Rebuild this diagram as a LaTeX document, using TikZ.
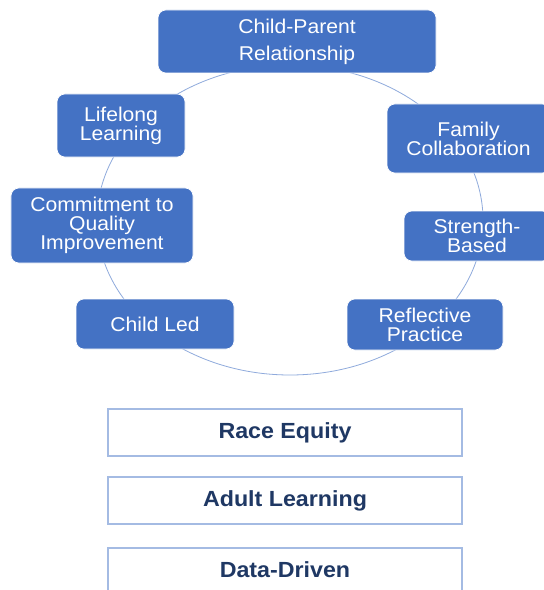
\documentclass[tikz,border=0pt]{standalone}
\usepackage{fontspec}
\setmainfont{Liberation Sans}[FakeStretch=1.06]
\definecolor{boxblue}{HTML}{4472C4}
\definecolor{ringblue}{HTML}{8FAADC}
\definecolor{navy}{HTML}{1F3864}
\definecolor{edgeblue}{HTML}{A4BBE3}
\tikzset{
  cyc/.style={draw=white, line width=0.6bp, fill=boxblue, rounded corners=8bp,
    text=white, align=center, inner sep=0pt,
    font=\fontsize{20}{19.3}\selectfont},
  band/.style={draw=edgeblue, line width=1.5bp, fill=white, text=navy,
    inner sep=0pt, minimum width=354bp, minimum height=47bp,
    font=\bfseries\fontsize{22}{24}\selectfont}
}
\lineskiplimit=-20pt
\begin{document}
\begin{tikzpicture}[x=1bp,y=-1bp]
\useasboundingbox (0,0) rectangle (544,590);
\clip (0,0) rectangle (544,590);
\fill[white] (0,0) rectangle (544,590);
\draw[ringblue, line width=0.8bp] (290,220) ellipse [x radius=193bp, y radius=155bp];
\node[cyc, minimum width=278bp, minimum height=63bp, font=\fontsize{20}{27}\selectfont] (cp) at (297,41.5) {Child-Parent\\Relationship};
\node[cyc, minimum width=128bp, minimum height=63bp] (ll) at (121,125.5) {Lifelong\\Learning};
\node[cyc, minimum width=163bp, minimum height=69bp] (fc) at (468.5,138.5) {Family\\Collaboration};
\node[cyc, minimum width=182bp, minimum height=75bp] (cq) at (102,225.5) {Commitment to\\Quality\\Improvement};
\node[cyc, minimum width=146bp, minimum height=50bp] (sb) at (477,236) {Strength-\\Based};
\node[cyc, minimum width=158bp, minimum height=50bp] (cl) at (155,324) {Child Led};
\node[cyc, minimum width=156bp, minimum height=51bp] (rp) at (425,324.5) {Reflective\\Practice};
\node[band] (re) at (285,432.5) {\raisebox{3.5bp}{Race Equity}};
\node[band] (al) at (285,500.5) {\raisebox{3.5bp}{Adult Learning}};
\node[band] (dd) at (285,571.5) {\raisebox{3.5bp}{Data-Driven}};
\end{tikzpicture}
\end{document}
